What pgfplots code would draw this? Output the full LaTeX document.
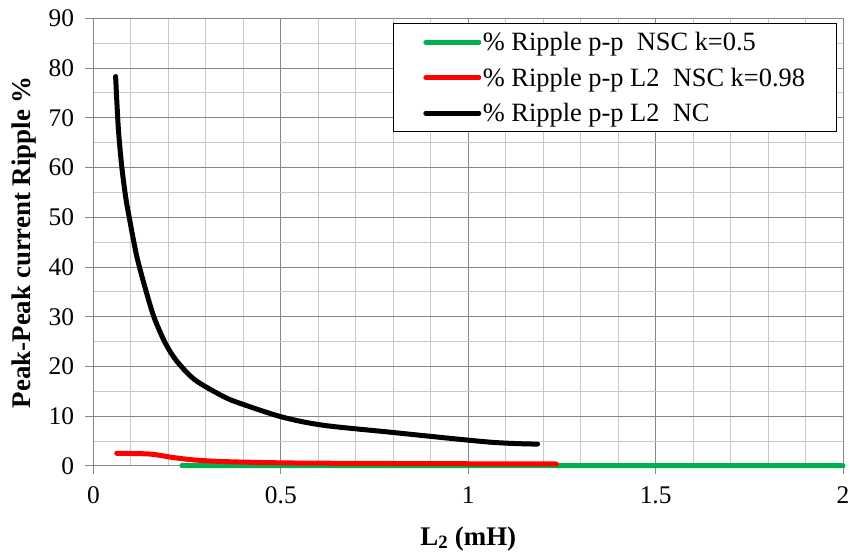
\documentclass[border=0pt]{standalone}
\usepackage{fontspec}
\setmainfont{Liberation Serif}
\usepackage{pgfplots}
\pgfplotsset{compat=1.18}
\definecolor{xlgreen}{RGB}{0,176,80}
\definecolor{xlred}{RGB}{255,0,0}
\definecolor{gridmajor}{RGB}{134,134,134}
\definecolor{gridminor}{RGB}{200,200,200}

\begin{document}
\begin{tikzpicture}
\begin{axis}[
  scale only axis, width=749.5bp, height=447.7bp,
  xmin=0, xmax=2, ymin=0, ymax=90,
  xtick={0,0.5,1,1.5,2}, ytick={0,10,...,90},
  minor x tick num=4, minor y tick num=1,
  grid=both,
  major grid style={gridmajor, line width=1bp},
  minor grid style={gridminor, line width=1bp},
  axis line style={gridmajor, line width=1bp},
  tick style={gridmajor, line width=1bp},
  tick align=outside, major tick length=8bp, minor tick length=0pt,
  xtick pos=bottom, ytick pos=left,
  /pgf/number format/assume math mode=true,
  ticklabel style={font=\fontsize{25.5}{30}\selectfont},
  xticklabel style={yshift=-9.5bp},
  yticklabel style={xshift=-8bp},
  xlabel={\textbf{L\textsubscript{2} (mH)}},
  ylabel={\textbf{Peak-Peak current Ripple \%}},
  label style={font=\fontsize{27}{31}\selectfont},
  xlabel style={at={(axis description cs:0.5,-0.1765)}, anchor=base},
  ylabel style={at={(axis description cs:-0.0834,0.5)}, anchor=base},
  clip=false,
  legend cell align=left,
  legend image code/.code={\draw[#1, line cap=round] (0bp,0bp) -- (53bp,0bp);},
  legend style={at={(0.992,0.9895)}, anchor=north east,
    draw=black, line width=1bp, inner xsep=30bp, inner ysep=7.3bp,
    font=\fontsize{26.5}{31}\selectfont, row sep=12.7bp,
    nodes={inner sep=1.5bp}},
]
\addplot[xlgreen, line width=5bp, line cap=round]
  coordinates {(0.236,0.1) (0.6,0.08) (1.0,0.07) (1.5,0.06) (2.0,0.05)};
\addlegendentry{\% Ripple p-p\ \ NSC k=0.5}

\addplot[xlred, line width=5bp, line cap=round, smooth]
  coordinates {(0.062,2.55) (0.151,2.4) (0.208,1.75) (0.271,1.2) (0.359,0.86)
               (0.537,0.6) (0.8,0.5) (1.0,0.45) (1.235,0.4)};
\addlegendentry{\% Ripple p-p L2\ \ NSC k=0.98\hspace{6bp}}

\addplot[black, line width=5bp, line cap=round, line join=round, smooth]
  coordinates {(0.059,78.3) (0.066,68.2) (0.075,60.5) (0.086,54.0) (0.097,49.3)
               (0.113,43.0) (0.124,39.6) (0.142,34.7) (0.162,29.8) (0.191,24.8)
               (0.222,21.1) (0.271,17.3) (0.346,14.0) (0.391,12.6) (0.503,9.85)
               (0.612,8.2) (0.791,6.8) (1.057,4.8) (1.185,4.4)};
\addlegendentry{\% Ripple p-p L2\ \ NC}
\end{axis}
\pgfresetboundingbox
\path ([shift={(-93.5bp,-87bp)}]current axis.south west)
  rectangle ([shift={(7bp,18.3bp)}]current axis.north east);
\end{tikzpicture}
\end{document}
